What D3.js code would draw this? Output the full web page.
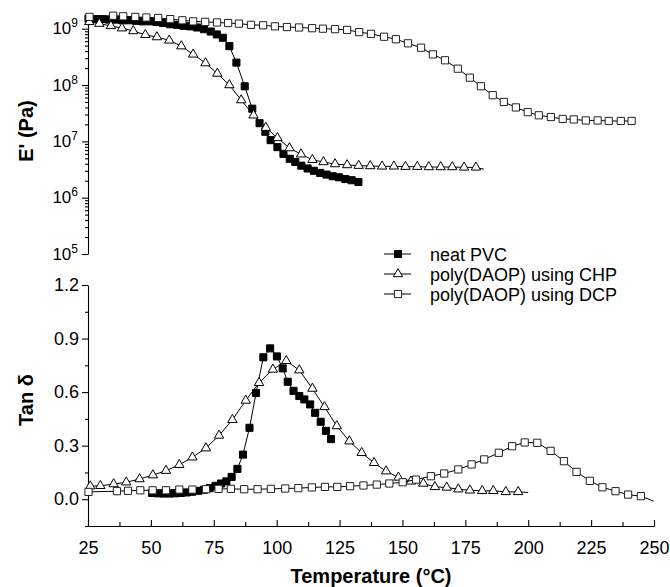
<!DOCTYPE html>
<html><head><meta charset="utf-8">
<script src="https://cdn.jsdelivr.net/npm/d3@7"></script>
<style>
body{margin:0;background:#fff}
text{font-family:"Liberation Sans",Arial,Helvetica,sans-serif;fill:#000}
</style>
</head><body><svg id="c" width="670" height="587"></svg>
<script>
// ---------- DATA ----------
// Storage modulus E' (Pa) vs temperature (°C)
const neatE_T = [25.2,27.9,30.6,33.3,36.0,38.7,41.4,44.1,46.8,49.5,52.2,54.9,57.6,60.3,63.0,65.7,68.4,71.1,73.8,76.2,78.6,81.2,84.0,87.3,90.3,93.2,95.5,97.6,100.3,102.7,105.2,107.4,109.8,112.3,114.8,117.3,119.8,122.3,124.8,127.3,129.8,132.5];
const neatE   = [1.51e9,1.48e9,1.48e9,1.45e9,1.45e9,1.41e9,1.41e9,1.38e9,1.35e9,1.35e9,1.32e9,1.26e9,1.20e9,1.17e9,1.12e9,1.10e9,1.05e9,9.8e8,8.9e8,7.9e8,6.9e8,4.9e8,2.5e8,9.5e7,3.8e7,2.1e7,1.48e7,1.05e7,7.9e6,6.0e6,4.9e6,4.3e6,3.7e6,3.3e6,3.0e6,2.75e6,2.57e6,2.4e6,2.3e6,2.14e6,2.04e6,1.9e6];

const chpE_T = [25.5,29.5,34.1,38.5,43.0,47.8,52.4,57.3,62.1,66.8,71.7,76.4,81.2,85.9,90.8,95.7,100.3,105.1,109.7,114.2,118.6,123.2,128.0,132.6,137.2,141.9,146.6,151.2,155.9,160.5,165.2,169.8,174.5,179.2,182.4];
const chpE   = [1.32e9,1.23e9,1.12e9,1.02e9,9.1e8,7.8e8,7.1e8,6.2e8,4.9e8,3.5e8,2.45e8,1.6e8,1.0e8,5.4e7,2.9e7,1.75e7,1.15e7,7.6e6,5.9e6,4.7e6,4.3e6,3.95e6,3.8e6,3.7e6,3.65e6,3.6e6,3.6e6,3.55e6,3.55e6,3.5e6,3.5e6,3.5e6,3.45e6,3.45e6,3.2e6];

const dcpE_T = [25.6,35.0,39.0,43.8,48.2,52.9,57.7,62.5,66.8,71.6,76.3,80.7,85.0,89.8,94.6,99.3,104.1,108.9,114.1,118.4,123.2,128.0,132.8,137.5,142.7,147.4,152.2,157.4,162.1,166.9,172.0,176.8,181.2,185.9,190.3,195.1,199.8,204.2,209.0,213.7,218.1,222.9,227.6,232.0,236.8,241.1];
const dcpE   = [1.62e9,1.70e9,1.66e9,1.62e9,1.58e9,1.55e9,1.48e9,1.41e9,1.35e9,1.32e9,1.29e9,1.26e9,1.23e9,1.17e9,1.15e9,1.10e9,1.07e9,1.05e9,1.02e9,1.0e9,9.8e8,9.5e8,8.7e8,8.1e8,7.2e8,6.5e8,5.5e8,4.6e8,3.5e8,2.75e8,1.95e8,1.35e8,9.5e7,6.6e7,5.0e7,4.0e7,3.3e7,2.9e7,2.7e7,2.5e7,2.45e7,2.35e7,2.35e7,2.3e7,2.3e7,2.3e7];

// Loss factor tan δ vs temperature (°C)
const neatTan_T = [50.5,52.8,55.0,57.3,59.6,61.9,64.2,66.5,68.8,71.1,73.4,75.7,77.9,80.0,82.1,84.4,86.6,89.2,91.8,94.7,97.4,100.1,102.4,104.4,106.7,109.0,111.0,113.3,115.3,117.5,119.6,121.6];
const neatTan   = [0.035,0.033,0.032,0.032,0.033,0.035,0.038,0.042,0.047,0.053,0.062,0.075,0.088,0.100,0.125,0.170,0.250,0.400,0.595,0.795,0.845,0.800,0.733,0.658,0.607,0.578,0.559,0.531,0.484,0.434,0.383,0.337];

const chpTan_T = [25.9,29.9,35.2,40.2,45.5,50.8,56.0,61.3,66.5,71.9,77.1,82.4,87.7,93.0,98.5,103.8,109.0,114.2,119.0,123.9,128.9,133.8,138.7,143.5,148.4,153.4,158.3,162.9,167.6,172.2,176.8,181.7,186.1,191.1,196.0,200.0];
const chpTan   = [0.073,0.075,0.085,0.095,0.113,0.135,0.160,0.193,0.235,0.286,0.357,0.445,0.553,0.652,0.727,0.775,0.723,0.620,0.517,0.410,0.325,0.260,0.204,0.157,0.122,0.100,0.088,0.069,0.066,0.056,0.050,0.047,0.047,0.041,0.041,0.038];

const dcpTan_T = [25.2,36.5,40.9,45.8,50.7,56.0,61.3,66.5,71.9,76.9,81.8,87.1,92.4,97.7,103.4,108.6,114.0,119.2,124.1,129.2,134.5,139.8,144.8,150.1,155.4,161.3,166.6,172.2,177.5,182.5,188.3,193.6,198.6,203.6,208.9,214.2,219.2,224.5,229.5,234.7,239.7,244.8,249.9];
const dcpTan   = [0.041,0.045,0.047,0.050,0.050,0.050,0.054,0.054,0.056,0.058,0.058,0.056,0.056,0.058,0.060,0.062,0.066,0.069,0.069,0.073,0.077,0.082,0.088,0.095,0.110,0.129,0.144,0.167,0.195,0.223,0.260,0.297,0.318,0.316,0.271,0.213,0.153,0.103,0.067,0.045,0.026,0.017,-0.011];

// Axis ticks
const xTicks = [25,50,75,100,125,150,175,200,225,250];
const xMinor = [37.5,62.5,87.5,112.5,137.5,162.5,187.5,212.5,237.5];
const eTicks = [1e5,1e6,1e7,1e8,1e9];
const tanTicks = [0.0,0.3,0.6,0.9,1.2];
const tanMinor = [-0.15,0.15,0.45,0.75,1.05];

const seriesNames = ["neat PVC","poly(DAOP) using CHP","poly(DAOP) using DCP"];

// ---------- SCALES ----------
const svg = d3.select("#c");
const x = d3.scaleLinear().domain([25,250]).range([88,654]);
const yE = d3.scaleLog().domain([1e5,1.75e9]).range([254,15]);
const yT = d3.scaleLinear().domain([-0.15,1.2]).range([526,285]);

// ---------- AXES ----------
function styleAxis(g){
  g.selectAll("path.domain").attr("stroke","#000").attr("stroke-width",1.1);
  g.selectAll(".tick line").attr("stroke","#000").attr("stroke-width",1.1);
}
// Top panel y axis (log)
const gE = svg.append("g").attr("transform","translate(88,0)")
  .call(d3.axisLeft(yE).tickValues(eTicks).tickSize(6).tickSizeOuter(0).tickFormat(""));
styleAxis(gE);
gE.selectAll(".tick").each(function(d){
  const t = d3.select(this).append("text").attr("x",-10).attr("y",5)
    .attr("text-anchor","end").attr("font-size",17);
  t.append("tspan").text("10");
  t.append("tspan").attr("dy",-7).attr("font-size",12).text(Math.round(Math.log10(d)));
});
const eMinor = yE.ticks().filter(v => Math.abs(Math.log10(v) - Math.round(Math.log10(v))) > 1e-6);
const gEm = svg.append("g").attr("transform","translate(88,0)")
  .call(d3.axisLeft(yE).tickValues(eMinor).tickSize(3).tickFormat(""));
gEm.select("path.domain").remove();
styleAxis(gEm);

// Bottom panel y axis
const gT = svg.append("g").attr("transform","translate(88,0)")
  .call(d3.axisLeft(yT).tickValues(tanTicks).tickSize(6).tickSizeOuter(0).tickPadding(3).tickFormat(d3.format(".1f")));
styleAxis(gT);
gT.selectAll("text").attr("font-size",18).attr("font-family",null);
const gTm = svg.append("g").attr("transform","translate(88,0)")
  .call(d3.axisLeft(yT).tickValues(tanMinor).tickSize(3).tickFormat(""));
gTm.select("path.domain").remove();
styleAxis(gTm);

// X axis (ticks pointing inward)
const gX = svg.append("g").attr("transform","translate(0,526)")
  .call(d3.axisBottom(x).tickValues(xTicks).tickSizeInner(-6).tickSizeOuter(0).tickPadding(15).tickFormat(d3.format("d")));
styleAxis(gX);
gX.selectAll("text").attr("font-size",18).attr("font-family",null);
const gXm = svg.append("g").attr("transform","translate(0,526)")
  .call(d3.axisBottom(x).tickValues(xMinor).tickSizeInner(-4).tickSizeOuter(0).tickFormat(""));
gXm.select("path.domain").remove();
styleAxis(gXm);

// Axis titles
svg.append("text").attr("x",371).attr("y",583).attr("text-anchor","middle")
  .attr("font-size",20).attr("font-weight","bold").text("Temperature (°C)");
svg.append("text").attr("transform","translate(33,131) rotate(-90)").attr("text-anchor","middle")
  .attr("font-size",20).attr("font-weight","bold").text("E' (Pa)");
svg.append("text").attr("transform","translate(33,400) rotate(-90)").attr("text-anchor","middle")
  .attr("font-size",20).attr("font-weight","bold").text("Tan δ");

// ---------- MARKS ----------
const sq = d3.symbol().type(d3.symbolSquare);
const tri = d3.symbol().type(d3.symbolTriangle);
const styles = [
  {sym: sq.size(50)(), fill:"#000", stroke:"#000"},
  {sym: tri.size(38)(), fill:"#fff", stroke:"#000"},
  {sym: sq.size(52)(), fill:"#fff", stroke:"#222"}
];
function drawSeries(Ts, Vs, yScale, st, tail){
  const pts = Ts.map((t,i)=>[t,Vs[i]]);
  svg.append("path").datum(pts)
    .attr("fill","none").attr("stroke","#000").attr("stroke-width",1)
    .attr("d", d3.line().x(d=>x(d[0])).y(d=>yScale(d[1])));
  const mk = tail ? pts.slice(0,-1) : pts;
  svg.append("g").selectAll("path").data(mk).join("path")
    .attr("transform", d=>`translate(${x(d[0])},${yScale(d[1])})`)
    .attr("d", st.sym).attr("fill", st.fill).attr("stroke", st.stroke).attr("stroke-width",1);
}
drawSeries(neatE_T, neatE, yE, styles[0], false);
drawSeries(chpE_T, chpE, yE, styles[1], true);
drawSeries(dcpE_T, dcpE, yE, styles[2], false);
drawSeries(neatTan_T, neatTan, yT, styles[0], false);
drawSeries(chpTan_T, chpTan, yT, styles[1], true);
drawSeries(dcpTan_T, dcpTan, yT, styles[2], true);

// ---------- LEGEND ----------
const lg = svg.append("g");
seriesNames.forEach((name,i)=>{
  const cy = 254 + i*20;
  lg.append("line").attr("x1",384).attr("x2",411).attr("y1",cy).attr("y2",cy).attr("stroke","#000").attr("stroke-width",1);
  lg.append("path").attr("transform",`translate(398,${cy})`).attr("d",styles[i].sym)
    .attr("fill",styles[i].fill).attr("stroke",styles[i].stroke);
  lg.append("text").attr("x",430).attr("y",cy+6.5).attr("font-size",18).text(name);
});
</script></body></html>
